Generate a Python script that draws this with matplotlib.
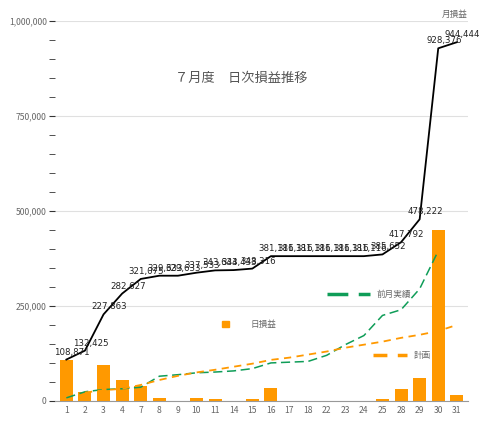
import matplotlib.pyplot as plt
from matplotlib.lines import Line2D
from matplotlib.patches import Patch

plt.rcParams['font.family'] = ['Noto Sans CJK JP', 'DejaVu Sans']

days = ['1', '2', '3', '4', '7', '8', '9', '10', '11', '14', '15', '16', '17', '18',
        '22', '23', '24', '25', '28', '29', '30', '31']
daily = [108871, 23554, 95438, 54764, 38448, 8558, 0, 7900, 6100, 800, 3900, 32800,
         0, 0, 0, 0, 0, 4500, 32140, 60430, 450154, 16068]
cumulative = [108871, 132425, 227863, 282627, 321075, 329633, 329633, 337533, 343633,
              344433, 348316, 381116, 381116, 381116, 381116, 381116, 381116, 385652,
              417792, 478222, 928376, 944444]
prev_month = [8000, 24000, 30000, 32000, 36000, 65000, 69000, 74000, 76000, 79000,
              85000, 100000, 102000, 104000, 120000, 148000, 172000, 225000, 240000,
              295000, 395000]
plan = [None, 22000, 28000, 32000, 42000, 55000, 66000, 75000, 82000, 90000, 98000,
        108000, 114000, 122000, 130000, 140000, 148000, 156000, 166000, 174000,
        184000, 200000]

orange = '#ff9900'
green = '#0f9d58'

fig, ax = plt.subplots(figsize=(4.8, 4.22), dpi=100)
fig.subplots_adjust(left=0.115, right=0.975, top=0.95, bottom=0.05)

x = list(range(len(days)))
ax.bar(x, daily, width=0.7, color=orange, zorder=2)
ax.plot(x, cumulative, color='black', lw=1.3, zorder=3)
ax.plot(x[:len(prev_month)], prev_month, color=green, lw=1.1, dashes=(6, 3), zorder=3)
px = [i for i, v in zip(x, plan) if v is not None]
pv = [v for v in plan if v is not None]
ax.plot(px, pv, color=orange, lw=1.3, dashes=(4, 3), zorder=3)

for i, v in zip(x, cumulative):
    ax.text(i + 0.3, v + 8000, f'{v:,}', fontsize=6.2, ha='center', va='bottom',
            color='#222222', family='DejaVu Sans', zorder=4)

ax.set_xlim(-0.6, len(days) - 0.4)
ax.set_ylim(0, 1000000)
ax.set_xticks(x)
ax.set_xticklabels(days, fontsize=6.2, color='#666666')
ax.set_yticks([0, 250000, 500000, 750000, 1000000])
ax.set_yticklabels(['0', '250,000', '500,000', '750,000', '1,000,000'],
                   fontsize=6.2, color='#666666')
ax.set_yticks(range(0, 1000001, 50000), minor=True)
ax.tick_params(axis='y', which='both', length=4, color='#333333', pad=2)
ax.tick_params(axis='x', length=0)
ax.grid(axis='y', color='#e0e0e0', lw=0.8, zorder=0)
for s in ['top', 'right', 'left']:
    ax.spines[s].set_visible(False)
ax.spines['bottom'].set_color('#999999')

ax.text(0.45, 0.84, '７月度　日次損益推移', transform=ax.transAxes, ha='center',
        fontsize=9.5, color='#555555')
ax.text(1.0, 1.01, '月損益', transform=ax.transAxes, ha='right', fontsize=6.2,
        color='#666666')

l1 = ax.legend(handles=[Line2D([0], [0], color=green, lw=2.5, dashes=(6, 3))],
               labels=['前月実績'], loc='center', bbox_to_anchor=(0.76, 0.28),
               frameon=False, fontsize=6.2, handlelength=5, labelcolor='#666666')
ax.add_artist(l1)
l2 = ax.legend(handles=[Patch(color=orange)], labels=['日損益'], loc='center',
               bbox_to_anchor=(0.47, 0.2), frameon=False, fontsize=6.2,
               handlelength=0.8, handletextpad=2.5, labelcolor='#666666')
ax.add_artist(l2)
ax.legend(handles=[Line2D([0], [0], color=orange, lw=2.5, dashes=(4, 3))],
          labels=['計画'], loc='center', bbox_to_anchor=(0.84, 0.12),
          frameon=False, fontsize=6.2, handlelength=4, labelcolor='#666666')

fig.savefig('out.png')
